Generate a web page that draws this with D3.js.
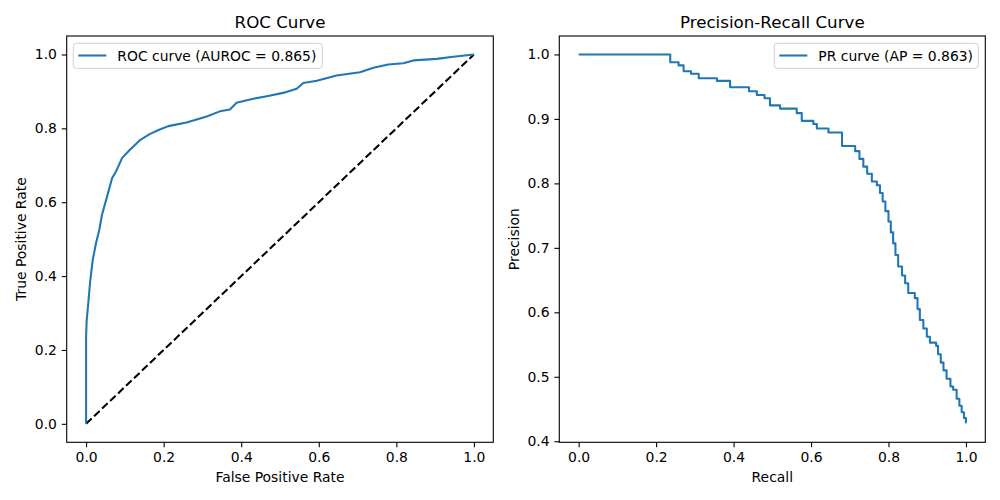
<!DOCTYPE html>
<html>
<head>
<meta charset="utf-8">
<script src="https://cdn.jsdelivr.net/npm/d3@7"></script>
<style>
  body { margin: 0; background: #fff; }
  text { font-family: "DejaVu Sans", sans-serif; fill: #000; }
</style>
</head>
<body>
<svg id="chart" width="1000" height="500"></svg>
<script>
// ROC curve points
var rocFpr = [0, 0, 0.0015, 0.006, 0.01, 0.017, 0.0255, 0.034, 0.041, 0.053, 0.067, 0.077, 0.093, 0.113, 0.14, 0.165, 0.19, 0.212, 0.259, 0.311, 0.345, 0.371, 0.388, 0.431, 0.466, 0.508, 0.543, 0.560, 0.595, 0.646, 0.706, 0.741, 0.779, 0.818, 0.844, 0.904, 0.947, 1.0];
var rocTpr = [0, 0.235, 0.28, 0.33, 0.38, 0.443, 0.489, 0.525, 0.566, 0.611, 0.665, 0.683, 0.72, 0.742, 0.769, 0.785, 0.797, 0.806, 0.816, 0.832, 0.846, 0.851, 0.869, 0.880, 0.887, 0.896, 0.907, 0.923, 0.929, 0.943, 0.952, 0.964, 0.973, 0.976, 0.984, 0.988, 0.994, 1.0];

// precision-recall points (drawn as steps)
var prRecall = [0, 0.2365, 0.258, 0.271, 0.290, 0.310, 0.357, 0.391, 0.44, 0.46, 0.48, 0.494, 0.52, 0.563, 0.576, 0.606, 0.615, 0.645, 0.68, 0.714, 0.725, 0.735, 0.745, 0.757, 0.770, 0.778, 0.785, 0.792, 0.800, 0.806, 0.812, 0.818, 0.825, 0.835, 0.843, 0.851, 0.868, 0.875, 0.881, 0.890, 0.899, 0.907, 0.923, 0.928, 0.935, 0.942, 0.950, 0.960, 0.967, 0.976, 0.983, 0.989, 0.995, 1.0];
var prPrecision = [1.0, 0.988, 0.983, 0.974, 0.970, 0.963, 0.959, 0.949, 0.943, 0.937, 0.932, 0.921, 0.916, 0.909, 0.897, 0.892, 0.885, 0.879, 0.858, 0.850, 0.838, 0.826, 0.815, 0.803, 0.797, 0.785, 0.772, 0.757, 0.741, 0.724, 0.707, 0.689, 0.671, 0.657, 0.645, 0.630, 0.622, 0.605, 0.588, 0.575, 0.562, 0.553, 0.548, 0.535, 0.522, 0.510, 0.497, 0.485, 0.480, 0.466, 0.455, 0.445, 0.436, 0.428];

var xTicks = [0, 0.2, 0.4, 0.6, 0.8, 1.0];
var rocYTicks = [0, 0.2, 0.4, 0.6, 0.8, 1.0];
var prYTicks = [0.4, 0.5, 0.6, 0.7, 0.8, 0.9, 1.0];

var blue = "#1f77b4";
var svg = d3.select("#chart");

function panel(opts) {
    var g = svg.append("g");
    var x = d3.scaleLinear().domain(opts.xDomain).range([opts.left, opts.right]);
    var y = d3.scaleLinear().domain(opts.yDomain).range([opts.bottom, opts.top]);

    // axes
    g.append("g")
        .attr("transform", "translate(0," + opts.bottom + ")")
        .call(d3.axisBottom(x).tickValues(xTicks).tickFormat(d3.format(".1f")).tickSizeOuter(0).tickSize(4.9).tickPadding(4.9))
        .call(function (a) { a.select(".domain").remove(); });
    g.append("g")
        .attr("transform", "translate(" + opts.left + ",0)")
        .call(d3.axisLeft(y).tickValues(opts.yTicks).tickFormat(d3.format(".1f")).tickSizeOuter(0).tickSize(4.9).tickPadding(4.9))
        .call(function (a) { a.select(".domain").remove(); });
    g.selectAll(".tick line").attr("stroke", "#000").attr("stroke-width", 1.1);
    g.selectAll(".tick text").style("font-size", "13.9px").style("font-family", "DejaVu Sans");

    var clipId = "clip" + opts.id;
    svg.append("clipPath").attr("id", clipId).append("rect")
        .attr("x", opts.left).attr("y", opts.top)
        .attr("width", opts.right - opts.left).attr("height", opts.bottom - opts.top);

    var plot = g.append("g").attr("clip-path", "url(#" + clipId + ")");
    if (opts.diag) {
        plot.append("path")
            .attr("d", d3.line()([[x(0), y(0)], [x(1), y(1)]]))
            .attr("fill", "none").attr("stroke", "#000")
            .attr("stroke-width", 2.08).attr("stroke-dasharray", "7.7,3.33");
    }
    var pts = opts.xs.map(function (d, i) { return [d, opts.ys[i]]; });
    plot.append("path")
        .datum(pts)
        .attr("d", d3.line().x(function (d) { return x(d[0]); }).y(function (d) { return y(d[1]); }).curve(opts.curve))
        .attr("fill", "none").attr("stroke", blue)
        .attr("stroke-width", 2.08).attr("stroke-linejoin", "round");

    // frame
    g.append("rect")
        .attr("x", opts.left).attr("y", opts.top)
        .attr("width", opts.right - opts.left).attr("height", opts.bottom - opts.top)
        .attr("fill", "none").attr("stroke", "#000").attr("stroke-width", 1.1);

    // title and labels
    g.append("text").attr("x", (opts.left + opts.right) / 2).attr("y", 28)
        .attr("text-anchor", "middle").style("font-size", "16.7px").text(opts.title);
    g.append("text").attr("x", (opts.left + opts.right) / 2).attr("y", 482)
        .attr("text-anchor", "middle").style("font-size", "13.9px").text(opts.xLabel);
    g.append("text").attr("transform", "translate(" + opts.yLabelX + "," + (opts.top + opts.bottom) / 2 + ") rotate(-90)")
        .attr("text-anchor", "middle").style("font-size", "13.9px").text(opts.yLabel);

    // legend
    var lg = g.append("g");
    lg.append("rect").attr("x", opts.legX).attr("y", 43.3)
        .attr("width", opts.legW).attr("height", 25).attr("rx", 3)
        .attr("fill", "#fff").attr("fill-opacity", 0.8)
        .attr("stroke", "#d0d0d0").attr("stroke-width", 1);
    lg.append("line").attr("x1", opts.legX + 5).attr("x2", opts.legX + 33)
        .attr("y1", 55.5).attr("y2", 55.5)
        .attr("stroke", blue).attr("stroke-width", 2.08);
    lg.append("text").attr("x", opts.legX + 44).attr("y", 60.5)
        .style("font-size", "13.9px").text(opts.legend);
}

panel({
    id: "roc", left: 66.7, right: 493.3, top: 36, bottom: 442.3,
    xDomain: [-0.05, 1.05], yDomain: [-0.05, 1.05], yTicks: rocYTicks,
    xs: rocFpr, ys: rocTpr, curve: d3.curveLinear, diag: true,
    title: "ROC Curve", xLabel: "False Positive Rate", yLabel: "True Positive Rate", yLabelX: 26,
    legend: "ROC curve (AUROC = 0.865)", legX: 73.3, legW: 249
});

panel({
    id: "pr", left: 559.3, right: 985.3, top: 36, bottom: 442.3,
    xDomain: [-0.05, 1.05], yDomain: [0.3984, 1.0286], yTicks: prYTicks,
    xs: prRecall, ys: prPrecision, curve: d3.curveStepAfter, diag: false,
    title: "Precision-Recall Curve", xLabel: "Recall", yLabel: "Precision", yLabelX: 519,
    legend: "PR curve (AP = 0.863)", legX: 774.3, legW: 204
});
</script>
</body>
</html>
